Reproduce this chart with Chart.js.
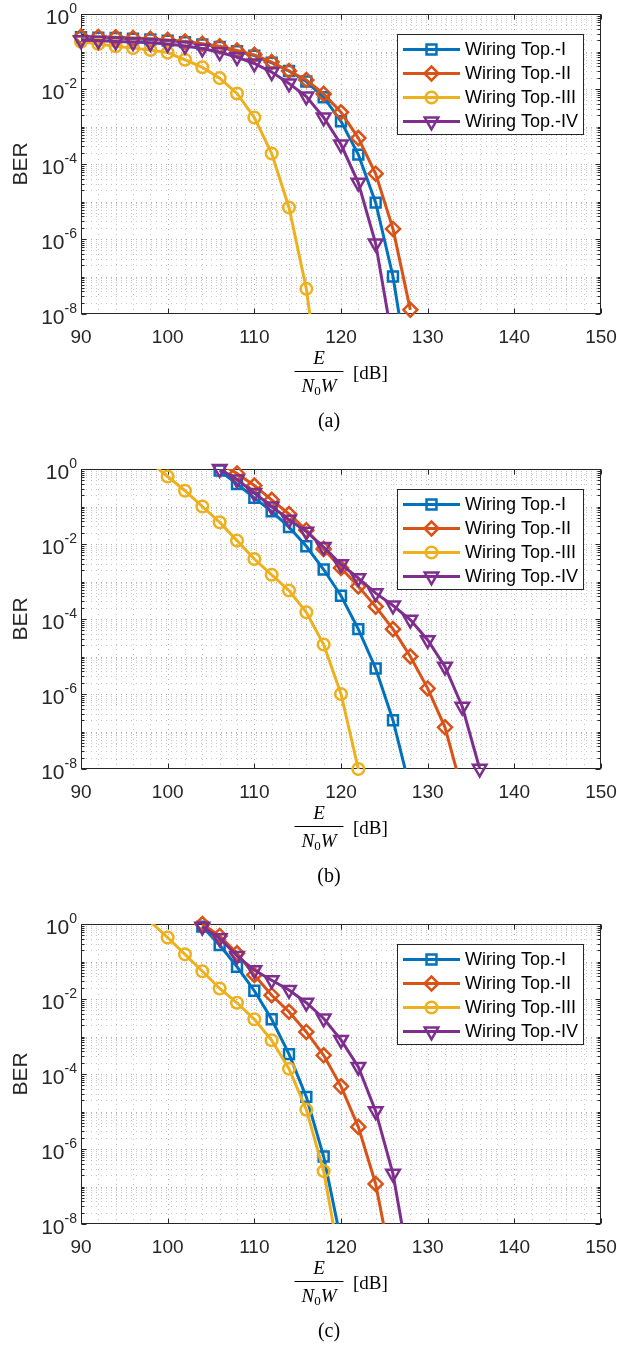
<!DOCTYPE html>
<html>
<head>
<meta charset="utf-8">
<title>BER vs E/(N0W)</title>
<script src="https://cdn.jsdelivr.net/npm/chart.js@4.4.0/dist/chart.umd.min.js"></script>
<style>
    html, body { margin: 0; padding: 0; background: #fff; overflow: hidden; }
    body { width: 617px; height: 1346px; position: relative; }
    .panel { position: absolute; left: 0; width: 617px; height: 455px; }
</style>
</head>
<body>
<div class="panel" style="top:0"><canvas id="chartA" width="617" height="455"></canvas></div>
<div class="panel" style="top:455px"><canvas id="chartB" width="617" height="455"></canvas></div>
<div class="panel" style="top:910px"><canvas id="chartC" width="617" height="455"></canvas></div>

<script>
// Axes
const xTicks = [90, 100, 110, 120, 130, 140, 150];
const yTickExponents = [0, -2, -4, -6, -8];

// Series
const seriesNames = ['Wiring Top.-I', 'Wiring Top.-II', 'Wiring Top.-III', 'Wiring Top.-IV'];
const seriesColors = ['#0072BD', '#D95319', '#EDB120', '#7E2F8E'];
const seriesMarkers = ['rect', 'rectRot', 'circle', 'triangle'];

// (a)
const snrA = [90, 92, 94, 96, 98, 100, 102, 104, 106, 108, 110, 112, 114, 116, 118, 120, 122, 124, 126, 128];
const berA1 = [0.240, 0.234, 0.229, 0.219, 0.209, 0.195, 0.178, 0.155, 0.132, 0.102, 0.0776, 0.0501, 0.0302, 0.0158, 6.03e-3, 1.38e-3, 1.78e-4, 9.33e-6, 1.0e-7, 1.3e-10];
const berA2 = [0.251, 0.245, 0.240, 0.229, 0.219, 0.204, 0.186, 0.162, 0.138, 0.107, 0.0813, 0.0525, 0.0302, 0.0174, 7.41e-3, 2.40e-3, 4.90e-4, 5.50e-5, 1.86e-6, 1.29e-8];
const berA3 = [0.182, 0.158, 0.138, 0.123, 0.110, 0.0933, 0.0603, 0.0380, 0.0195, 7.59e-3, 1.74e-3, 1.91e-4, 6.92e-6, 4.68e-8, 2.0e-11];
const berA4 = [0.200, 0.195, 0.186, 0.178, 0.170, 0.158, 0.141, 0.120, 0.0955, 0.0708, 0.0479, 0.0282, 0.0141, 6.31e-3, 1.74e-3, 3.31e-4, 3.16e-5, 7.59e-7, 1.6e-9];

// (b)
const snrB = [98, 100, 102, 104, 106, 108, 110, 112, 114, 116, 118, 120, 122, 124, 126, 128, 130, 132, 134, 136];
const berB1 = [null, null, null, null, 0.912, 0.398, 0.170, 0.0741, 0.0282, 8.71e-3, 2.09e-3, 4.17e-4, 5.37e-5, 4.79e-6, 2.0e-7, 2.75e-9];
const berB2 = [null, null, null, null, 1.41, 0.759, 0.363, 0.151, 0.0631, 0.0234, 7.41e-3, 2.29e-3, 7.41e-4, 2.14e-4, 5.37e-5, 1.0e-5, 1.41e-6, 1.29e-7, 2.57e-9];
const berB3 = [1.51, 0.631, 0.263, 0.100, 0.0380, 0.0123, 3.98e-3, 1.51e-3, 5.75e-4, 1.51e-4, 2.09e-5, 1.0e-6, 1.0e-8];
const berB4 = [null, null, null, null, 1.0, 0.525, 0.229, 0.100, 0.0447, 0.0214, 8.32e-3, 2.88e-3, 1.23e-3, 4.90e-4, 2.29e-4, 9.55e-5, 2.75e-5, 5.37e-6, 4.57e-7, 1.02e-8];

// (c)
const snrC = [98, 100, 102, 104, 106, 108, 110, 112, 114, 116, 118, 120, 122, 124, 126, 128];
const berC1 = [null, null, null, 0.851, 0.275, 0.0724, 0.0166, 2.88e-3, 3.39e-4, 2.45e-5, 6.31e-7, 3.55e-9];
const berC2 = [null, null, null, 1.0, 0.479, 0.166, 0.0437, 0.0126, 4.57e-3, 1.32e-3, 3.16e-4, 4.68e-5, 3.89e-6, 1.17e-7, 5.0e-10];
const berC3 = [1.15, 0.437, 0.155, 0.0550, 0.0191, 7.94e-3, 2.88e-3, 7.94e-4, 1.38e-4, 1.12e-5, 2.57e-7, 7.08e-10];
const berC4 = [null, null, null, 0.851, 0.417, 0.141, 0.0589, 0.0316, 0.0174, 7.94e-3, 3.02e-3, 8.13e-4, 1.55e-4, 1.02e-5, 2.19e-7, 5.0e-10];

const AXIS = '#262626';
const GRID_MAJOR = '#b0b0b0';
const GRID_MINOR = '#c8c8c8';
const SANS = '"Liberation Sans", Arial, Helvetica, sans-serif';
const SERIF = '"Liberation Serif", "Times New Roman", serif';

const LINE_W = 3;
const MARK_W = 2.5;
const markerSize = { rect: 7, rectRot: 7, circle: 5.8, triangle: 7.8 };

function strokeLine(ctx, x1, y1, x2, y2) {
    ctx.beginPath();
    ctx.moveTo(x1, y1);
    ctx.lineTo(x2, y2);
    ctx.stroke();
}

function drawMarker(ctx, style, x, y) {
    const opts = { pointStyle: style, radius: markerSize[style], rotation: style === 'triangle' ? 180 : 0, borderWidth: MARK_W };
    Chart.helpers.drawPoint(ctx, opts, x, y);
}

// grid + box, MATLAB style (dotted grid, inward ticks)
function drawGrid(chart) {
    const { ctx, chartArea: area, scales: { x, y } } = chart;
    ctx.save();
    ctx.lineWidth = 1;
    ctx.setLineDash([1, 4]);
    for (let v = x.min + 2; v < x.max; v += 2) {
        const px = Math.round(x.getPixelForValue(v)) + 0.5;
        ctx.strokeStyle = xTicks.includes(v) ? GRID_MAJOR : GRID_MINOR;
        strokeLine(ctx, px, area.top, px, area.bottom);
    }
    for (let e = -8; e < 0; e++) {
        for (let k = 1; k < 10; k++) {
            if (e === -8 && k === 1) continue;
            const py = Math.round(y.getPixelForValue(k * Math.pow(10, e))) + 0.5;
            ctx.strokeStyle = k === 1 ? GRID_MAJOR : GRID_MINOR;
            strokeLine(ctx, area.left, py, area.right, py);
        }
    }
    ctx.setLineDash([]);

    // box
    ctx.strokeStyle = AXIS;
    const l = Math.round(area.left) + 0.5, r = Math.round(area.right) - 0.5;
    const t = Math.round(area.top) + 0.5, b = Math.round(area.bottom) - 0.5;
    ctx.strokeRect(l, t, r - l, b - t);

    // ticks
    xTicks.forEach(v => {
        const px = Math.round(x.getPixelForValue(v)) + 0.5;
        strokeLine(ctx, px, b, px, b - 5);
        strokeLine(ctx, px, t, px, t + 5);
    });
    for (let e = -8; e <= 0; e++) {
        for (let k = 1; k < 10; k++) {
            if (e === 0 && k > 1) break;
            const py = Math.round(y.getPixelForValue(k * Math.pow(10, e))) + 0.5;
            const len = (k === 1 && yTickExponents.includes(e)) ? 5 : 3;
            strokeLine(ctx, l, py, l + len, py);
            strokeLine(ctx, r, py, r - len, py);
        }
    }
    ctx.restore();
}

function drawLabels(chart, caption) {
    const { ctx, chartArea: area, scales: { x, y } } = chart;
    ctx.save();
    ctx.fillStyle = AXIS;

    // x tick labels
    ctx.font = '19px ' + SANS;
    ctx.textAlign = 'center';
    ctx.textBaseline = 'alphabetic';
    xTicks.forEach(v => ctx.fillText(String(v), x.getPixelForValue(v), area.bottom + 28.5));

    // y tick labels 10^e
    yTickExponents.forEach(e => {
        const py = y.getPixelForValue(Math.pow(10, e));
        const sup = String(e);
        ctx.font = '14px ' + SANS;
        const wSup = ctx.measureText(sup).width;
        const right = area.left - 4;
        ctx.textBaseline = 'middle';
        ctx.textAlign = 'right';
        ctx.font = '21px ' + SANS;
        ctx.fillText('10', right - wSup, py + 4);
        ctx.textAlign = 'left';
        ctx.font = '14px ' + SANS;
        ctx.fillText(sup, right - wSup, py - 5);
    });

    // y label
    ctx.save();
    ctx.translate(21.5, (area.top + area.bottom) / 2);
    ctx.rotate(-Math.PI / 2);
    ctx.font = '21px ' + SANS;
    ctx.textAlign = 'center';
    ctx.textBaseline = 'middle';
    ctx.fillText('BER', 0, 0);
    ctx.restore();

    // x label: E / (N0 W) [dB]
    ctx.fillStyle = '#000';
    const cx = (area.left + area.right) / 2;
    const fx = cx - 22;
    ctx.textBaseline = 'alphabetic';
    ctx.textAlign = 'center';
    ctx.font = 'italic 19px ' + SERIF;
    ctx.fillText('E', fx, area.bottom + 50);
    ctx.fillRect(fx - 24.5, area.bottom + 57, 49, 1);
    ctx.textAlign = 'left';
    ctx.font = 'italic 19px ' + SERIF;
    const wN = ctx.measureText('N').width;
    const wW = ctx.measureText('W').width;
    ctx.font = '13px ' + SERIF;
    const w0 = ctx.measureText('0').width;
    let nx = fx - (wN + w0 + wW) / 2;
    ctx.font = 'italic 19px ' + SERIF;
    ctx.fillText('N', nx, area.bottom + 77.5);
    ctx.font = '13px ' + SERIF;
    ctx.fillText('0', nx + wN, area.bottom + 81);
    ctx.font = 'italic 19px ' + SERIF;
    ctx.fillText('W', nx + wN + w0, area.bottom + 77.5);
    ctx.font = '19px ' + SERIF;
    ctx.fillText('[dB]', fx + 34, area.bottom + 65);

    // caption
    ctx.textAlign = 'center';
    ctx.font = '20px ' + SERIF;
    ctx.fillText(caption, cx - 12, area.bottom + 113);
    ctx.restore();
}

function drawLegend(chart) {
    const { ctx, chartArea: area } = chart;
    const bw = 186, bh = 100;
    const bx = Math.round(area.right) - 18 - bw;
    const by = Math.round(area.top) + 20;
    ctx.save();
    ctx.fillStyle = '#fff';
    ctx.fillRect(bx, by, bw, bh);
    ctx.strokeStyle = AXIS;
    ctx.lineWidth = 1;
    ctx.strokeRect(bx + 0.5, by + 0.5, bw, bh);
    seriesNames.forEach((name, i) => {
        const cy = by + 15.5 + i * 24;
        ctx.strokeStyle = seriesColors[i];
        ctx.lineWidth = LINE_W;
        strokeLine(ctx, bx + 6, cy, bx + 63, cy);
        ctx.lineWidth = MARK_W;
        ctx.fillStyle = 'rgba(0,0,0,0)';
        drawMarker(ctx, seriesMarkers[i], bx + 34.5, cy);
        ctx.fillStyle = '#000';
        ctx.font = '18px ' + SANS;
        ctx.textAlign = 'left';
        ctx.textBaseline = 'middle';
        ctx.fillText(name, bx + 68, cy + 1);
    });
    ctx.restore();
}

const matlabAxes = {
    id: 'matlabAxes',
    beforeDatasetsDraw(chart) {
        drawGrid(chart);
    },
    afterDraw(chart, args, opts) {
        drawLabels(chart, opts.caption);
        drawLegend(chart);
    }
};

function buildDatasets(snr, bers) {
    const sets = [];
    bers.forEach((ber, i) => {
        const pts = snr.map((v, j) => ({ x: v, y: ber[j] })).filter(p => p.y != null && p.y !== undefined);
        sets.push({
            label: seriesNames[i],
            data: pts,
            borderColor: seriesColors[i],
            borderWidth: LINE_W,
            pointRadius: 0,
            tension: 0,
            fill: false,
            clip: 0
        });
        // markers only where the centre lies inside the axes
        sets.push({
            label: seriesNames[i] + ' markers',
            data: pts.filter(p => p.y >= 0.999e-8 && p.y <= 1.001),
            showLine: false,
            pointStyle: seriesMarkers[i],
            pointRadius: markerSize[seriesMarkers[i]],
            pointRotation: seriesMarkers[i] === 'triangle' ? 180 : 0,
            pointBorderColor: seriesColors[i],
            pointBackgroundColor: 'rgba(0,0,0,0)',
            pointBorderWidth: MARK_W,
            clip: false
        });
    });
    // later series drawn on top
    return sets.reverse();
}

function makePanel(id, snr, bers, caption) {
    new Chart(document.getElementById(id), {
        type: 'line',
        data: { datasets: buildDatasets(snr, bers) },
        options: {
            responsive: false,
            animation: false,
            devicePixelRatio: 1,
            events: [],
            layout: { padding: { left: 81, right: 16, top: 14, bottom: 141 } },
            scales: {
                x: { type: 'linear', min: 90, max: 150, display: false },
                y: { type: 'logarithmic', min: 1e-8, max: 1, display: false }
            },
            plugins: {
                legend: { display: false },
                tooltip: { enabled: false },
                matlabAxes: { caption: caption }
            }
        },
        plugins: [matlabAxes]
    });
}

makePanel('chartA', snrA, [berA1, berA2, berA3, berA4], '(a)');
makePanel('chartB', snrB, [berB1, berB2, berB3, berB4], '(b)');
makePanel('chartC', snrC, [berC1, berC2, berC3, berC4], '(c)');
</script>
</body>
</html>
